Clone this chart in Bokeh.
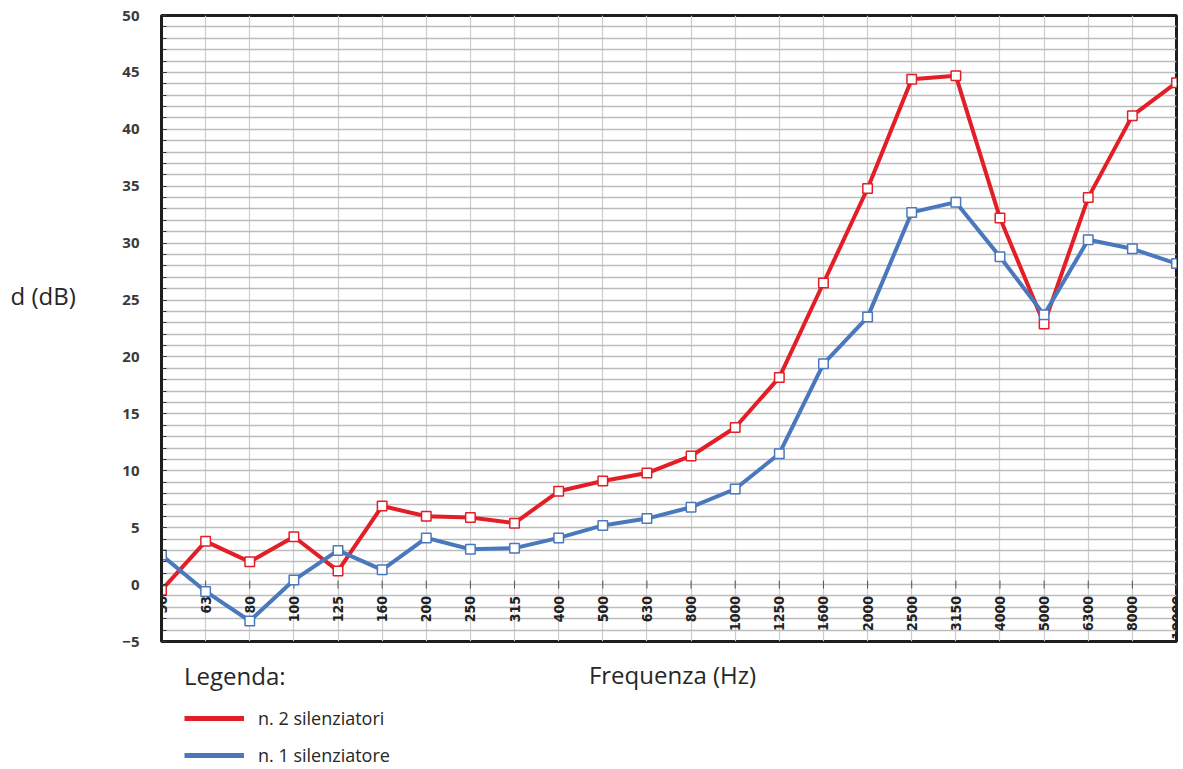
import numpy as np
from bokeh.plotting import figure
from bokeh.layouts import row, column
from bokeh.models import (Range1d, FixedTicker, Label, Legend, LegendItem,
                          ColumnDataSource)
from bokeh.core.properties import value
from bokeh.embed import file_html
from bokeh.resources import INLINE

# ---- data ----
freq_labels = ["50", "63", "80", "100", "125", "160", "200", "250", "315", "400",
               "500", "630", "800", "1000", "1250", "1600", "2000", "2500", "3150",
               "4000", "5000", "6300", "8000", "10000"]
due_silenziatori = [-0.5, 3.8, 2.0, 4.2, 1.2, 6.9, 6.0, 5.9, 5.4, 8.2,
                    9.1, 9.8, 11.3, 13.8, 18.2, 26.5, 34.8, 44.4, 44.7,
                    32.2, 22.9, 34.0, 41.2, 44.1]
un_silenziatore = [2.6, -0.6, -3.2, 0.4, 3.0, 1.3, 4.1, 3.1, 3.2, 4.1,
                   5.2, 5.8, 6.8, 8.4, 11.5, 19.4, 23.5, 32.7, 33.6,
                   28.8, 23.7, 30.3, 29.5, 28.2]
y_ticks = list(range(-5, 51, 5))
series_names = ["n. 2 silenziatori", "n. 1 silenziatore"]
y_title = "d (dB)"
x_title = "Frequenza (Hz)"
legend_title = "Legenda:"

RED = "#e31e26"
BLUE = "#4a78bd"
TXT = "#262626"
FONT = "Open Sans"

idx = list(range(len(freq_labels)))
src = ColumnDataSource(dict(x=idx, red=due_silenziatori, blue=un_silenziatore,
                            lab=freq_labels, lab_y=[-1.0] * len(idx),
                            t0=[-0.35] * len(idx), t1=[0.35] * len(idx)))


def blank(w, h):
    f = figure(width=w, height=h, output_backend="svg", toolbar_location=None,
               x_axis_location=None, y_axis_location=None, min_border=0,
               x_range=Range1d(0, 1), y_range=Range1d(0, 1))
    f.outline_line_color = None
    f.grid.visible = False
    return f


# ---- left strip with the y title ----
pl = blank(100, 769)
pl.add_layout(Label(x=10, y=474, x_units="screen", y_units="screen",
                    text=y_title, text_font=FONT, text_font_size="24px",
                    text_color=TXT, text_baseline="middle"))

# ---- main chart ----
p = figure(width=1083, height=650, output_backend="svg", toolbar_location=None,
           x_range=Range1d(0, len(idx) - 1), y_range=Range1d(-5, 50),
           x_axis_location=None,
           min_border_left=61, min_border_right=7, min_border_top=15,
           min_border_bottom=9)
p.outline_line_color = "#1e1e1e"
p.outline_line_width = 3
p.background_fill_color = "white"

p.ygrid.ticker = FixedTicker(ticks=list(range(-5, 51)))
p.ygrid.grid_line_color = "#bcbcbc"
p.ygrid.grid_line_width = 1.3
p.xgrid.ticker = FixedTicker(ticks=idx)
p.xgrid.grid_line_color = "#cccccc"
p.xgrid.grid_line_width = 1.2

ya = p.yaxis[0]
ya.ticker = FixedTicker(ticks=y_ticks, minor_ticks=list(range(-5, 51)))
ya.axis_line_width = 3
ya.axis_line_color = "#1e1e1e"
ya.major_tick_in = 5
ya.major_tick_out = 0
ya.minor_tick_in = 5
ya.minor_tick_out = 0
ya.major_tick_line_color = "#333333"
ya.minor_tick_line_color = "#333333"
ya.major_label_standoff = 22
ya.major_label_text_font = "Open Sans"
ya.major_label_text_font_style = "bold"
ya.major_label_text_font_size = "15px"
ya.major_label_text_color = "#3a3a3a"

# category tick marks and rotated labels at the zero line
p.segment(x0="x", y0="t0", x1="x", y1="t1", source=src, line_color="#555555",
          line_width=1)
p.text(x="x", y="lab_y", text="lab", source=src, angle=np.pi / 2,
       text_align="right", text_baseline="middle",
       text_font=value("DejaVu Sans Condensed"), text_font_size="14px",
       text_color="#222222", text_font_style="bold")

p.line("x", "red", source=src, line_color=RED, line_width=4)
p.scatter("x", "red", source=src, marker="square", size=9.5, fill_color="white",
          line_color=RED, line_width=1.5)
p.line("x", "blue", source=src, line_color=BLUE, line_width=4)
p.scatter("x", "blue", source=src, marker="square", size=9.5, fill_color="white",
          line_color=BLUE, line_width=1.5)

# ---- bottom strip: x title and legend (its frame is aligned with the chart) ----
pb = blank(1083, 119)
pb.add_layout(Label(x=511, y=95, x_units="screen", y_units="screen",
                    text=x_title, text_font=FONT, text_font_size="24px",
                    text_color=TXT, text_align="center", text_baseline="middle"))
lr = pb.line(x=[np.nan], y=[np.nan], line_color=RED, line_width=5)
lb = pb.line(x=[np.nan], y=[np.nan], line_color=BLUE, line_width=5)
legend = Legend(items=[LegendItem(label=series_names[0], renderers=[lr]),
                       LegendItem(label=series_names[1], renderers=[lb])],
                location=(23, 2), title=legend_title,
                title_text_font=FONT, title_text_font_size="24px",
                title_text_font_style="normal", title_text_color=TXT,
                title_standoff=14,
                label_text_font=FONT, label_text_font_size="18px",
                label_text_color=TXT, label_standoff=14,
                glyph_width=60, glyph_height=20, label_height=20,
                spacing=13, padding=0, margin=0,
                border_line_color=None, background_fill_alpha=0)
pb.add_layout(legend, "center")

layout = row(pl, column(p, pb))
open("out.html", "w").write(file_html(layout, INLINE))
